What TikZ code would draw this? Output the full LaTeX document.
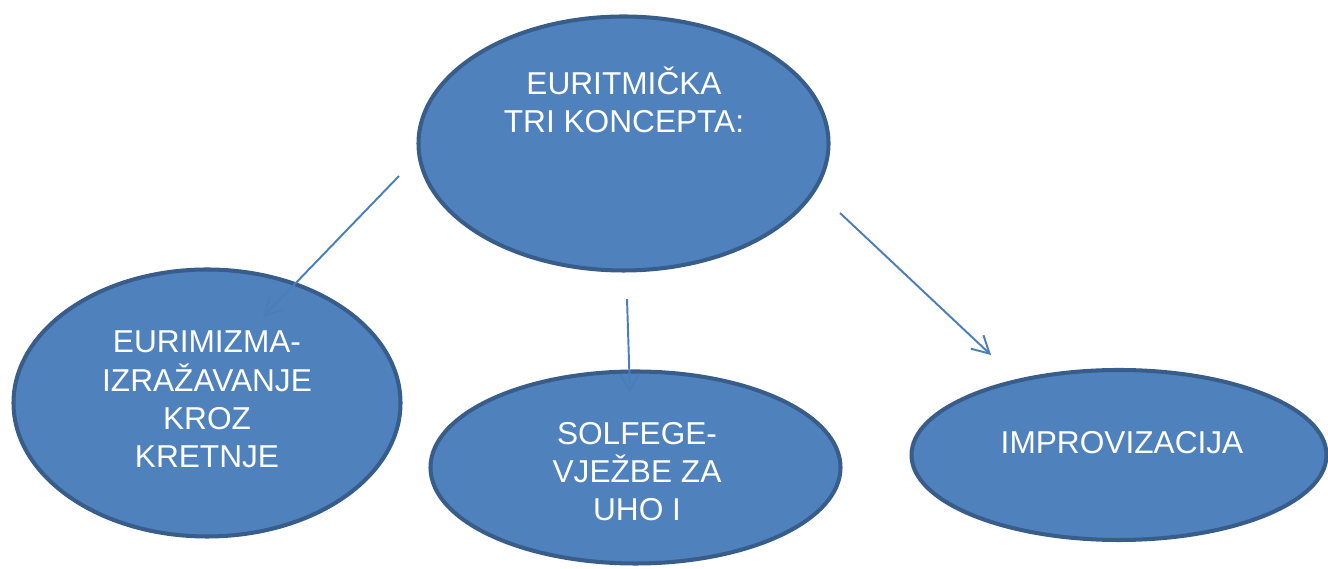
\documentclass[tikz,border=0pt]{standalone}
\usepackage{fontspec}
\setmainfont{Liberation Sans}
\usetikzlibrary{shapes.geometric}
\usetikzlibrary{arrows.meta}
\definecolor{bubblefill}{HTML}{4F81BD}
\definecolor{bubbleedge}{HTML}{385D8A}
\definecolor{linkblue}{HTML}{4A7EBB}
\begin{document}
\begin{tikzpicture}[
bubble/.style={ellipse,fill=bubblefill,draw=bubbleedge,line width=2.3pt,inner sep=0pt},
bubbletext/.style={text=white,align=center,anchor=base,font=\fontsize{18}{21.9}\selectfont},
link/.style={draw=linkblue,line width=1.1pt,-{Straight Barb[length=0.34cm,width=0.37cm]}}]
\useasboundingbox (0,0) rectangle (26.56,11.38);

\node[bubble,minimum width=8.2cm,minimum height=5.08cm] (top) at (12.47,8.51) {};
\node[bubble,minimum width=7.74cm,minimum height=5.34cm] (left) at (4.14,3.32) {};
\node[bubble,minimum width=8.2cm,minimum height=3.84cm] (mid) at (12.71,2.03) {};
\node[bubble,minimum width=8.3cm,minimum height=3.4cm] (right) at (22.38,2.28) {};

% base = last line
\node[bubbletext] (toptext) at (12.48,8.72) {EURITMIČKA\\TRI KONCEPTA:};
\node[bubbletext] (lefttext) at (4.14,2.02) {EURIMIZMA-\\IZRAŽAVANJE\\KROZ\\KRETNJE};
\node[bubbletext] (midtext) at (12.74,0.96) {SOLFEGE-\\VJEŽBE ZA\\UHO I};
\node[bubbletext] (righttext) at (22.44,2.30) {IMPROVIZACIJA};

\coordinate (a1) at (7.98,7.86);
\coordinate (b1) at (5.26,5.04);
\coordinate (a2) at (12.54,5.40);
\coordinate (b2) at (12.60,3.52);
\coordinate (a3) at (16.80,7.12);
\coordinate (b3) at (19.82,4.28);
\draw[link] (a1) -- (b1);
\draw[link] (a2) -- (b2);
\draw[link] (a3) -- (b3);
\end{tikzpicture}
\end{document}
